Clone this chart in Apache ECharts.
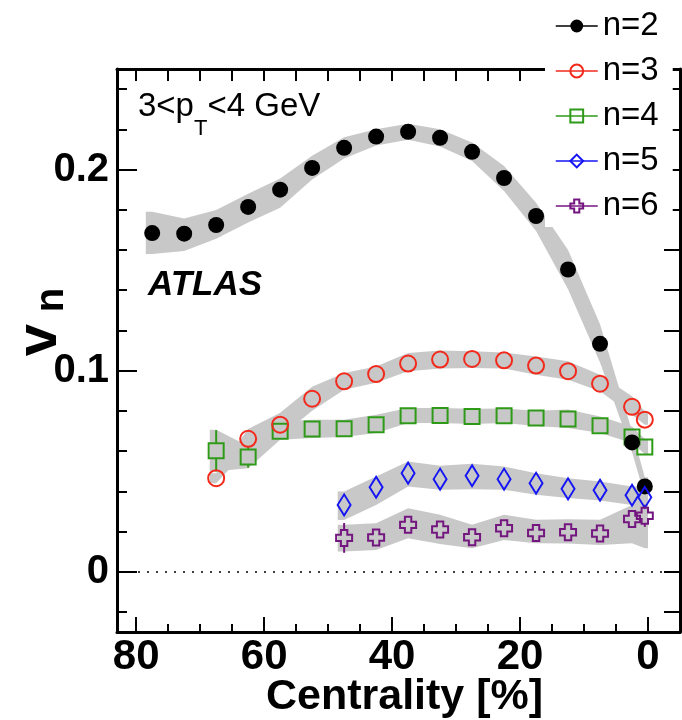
<!DOCTYPE html>
<html><head><meta charset="utf-8">
<script src="https://cdn.jsdelivr.net/npm/echarts@6/dist/echarts.min.js"></script>
<style>html,body{margin:0;padding:0;background:#fff}#c{width:682px;height:720px}</style>
</head><body><div id="c"></div>
<script>
// ---------------- data ----------------
const cent2 = [77.5,72.5,67.5,62.5,57.5,52.5,47.5,42.5,37.5,32.5,27.5,22.5,17.5,12.5,7.5,2.5,0.5];
const cent34 = [67.5,62.5,57.5,52.5,47.5,42.5,37.5,32.5,27.5,22.5,17.5,12.5,7.5,2.5,0.5];
const cent56 = [47.5,42.5,37.5,32.5,27.5,22.5,17.5,12.5,7.5,2.5,0.5];

const v2 = [0.1684,0.1681,0.1724,0.1814,0.1900,0.2008,0.2108,0.2164,0.2188,0.2158,0.2088,0.1958,0.1769,0.1503,0.1133,0.0643,0.0424];
const v2Lo = [0.1580,0.1595,0.1656,0.1736,0.1810,0.1950,0.2055,0.2120,0.2148,0.2115,0.2043,0.1893,0.1694,0.1405,0.1040,0.0595,0.0375];
const v2Hi = [0.1790,0.1756,0.1799,0.1880,0.1955,0.2068,0.2160,0.2200,0.2228,0.2200,0.2134,0.2018,0.1835,0.1600,0.1230,0.0700,0.0470];

const v3 = [0.0465,0.0661,0.0731,0.0860,0.0947,0.0983,0.1035,0.1055,0.1058,0.1051,0.1025,0.0997,0.0935,0.0820,0.0756];
const v3Lo = [0.0440,0.0610,0.0670,0.0800,0.0905,0.0940,0.0997,0.1010,0.1013,0.1010,0.0980,0.0955,0.0897,0.0781,0.0731];
const v3Hi = [0.0490,0.0710,0.0790,0.0920,0.0988,0.1021,0.1088,0.1100,0.1096,0.1090,0.1070,0.1046,0.0980,0.0872,0.0797];

const v4 = [0.0601,0.0570,0.0698,0.0710,0.0711,0.0731,0.0776,0.0777,0.0772,0.0776,0.0764,0.0759,0.0726,0.0670,0.0620];
const v4Lo = [0.0500,0.0515,0.0656,0.0665,0.0670,0.0690,0.0739,0.0739,0.0735,0.0739,0.0725,0.0714,0.0690,0.0640,0.0585];
const v4Hi = [0.0706,0.0625,0.0747,0.0756,0.0756,0.0781,0.0814,0.0814,0.0810,0.0812,0.0800,0.0806,0.0772,0.0722,0.0660];
const v4Err = [0.0103,0.0053,0.003,0.002,0.002,0.002,0.002,0.002,0.002,0.002,0.002,0.002,0.002,0.002,0.003];

const v5 = [0.0332,0.0420,0.0490,0.0460,0.0477,0.0460,0.0440,0.0412,0.0405,0.0380,0.0370];
const v5Lo = [0.0257,0.0332,0.0424,0.0407,0.0410,0.0407,0.0382,0.0366,0.0354,0.0332,0.0330];
const v5Hi = [0.0399,0.0473,0.0548,0.0527,0.0537,0.0523,0.0490,0.0465,0.0448,0.0424,0.0420];

const v6 = [0.0168,0.0170,0.0233,0.0210,0.0171,0.0216,0.0192,0.0196,0.0190,0.0262,0.0278];
const v6Lo = [0.0100,0.0108,0.0166,0.0138,0.0117,0.0158,0.0141,0.0140,0.0133,0.0141,0.0117];
const v6Hi = [0.0233,0.0241,0.0316,0.0283,0.0233,0.0283,0.0258,0.0261,0.0258,0.0332,0.0349];
const v6Err = [0.0074,0.004,0.003,0.003,0.003,0.003,0.003,0.003,0.003,0.004,0.0055];

const names = ['n=2','n=3','n=4','n=5','n=6'];
const xMajor = [80,60,40,20,0];
const xMinor = [80,75,70,65,60,55,50,45,40,35,30,25,20,15,10,5,0];
const yMajor = [0,0.1,0.2];
const yMinor = [-0.02,0,0.02,0.04,0.06,0.08,0.1,0.12,0.14,0.16,0.18,0.2,0.22,0.24];

// ---------------- style ----------------
const FONT = 'Liberation Sans';
const BAND = '#c8c8c8';
const C2 = '#000000', C3 = '#f2291b', C4 = '#2f9a18', C5 = '#1414f5', C6 = '#74167f';
const PAD = 1;
const CROSS = 'path://M3,0H7V3H10V7H7V10H3V7H0V3H3Z';

function zip(xs, ys){ return xs.map((x,i)=>[x, ys[i]]); }

function band(xs, lo, hi){
  return {
    type:'custom', z:1, silent:true, animation:false,
    data:[[xs[0], lo[0]]],
    renderItem:(params, api)=>{
      const n = xs.length, pts = [];
      pts.push(api.coord([xs[0]+PAD, hi[0]]));
      for(let i=0;i<n;i++) pts.push(api.coord([xs[i], hi[i]]));
      pts.push(api.coord([0, hi[n-1]]));
      pts.push(api.coord([0, lo[n-1]]));
      for(let i=n-1;i>=0;i--) pts.push(api.coord([xs[i], lo[i]]));
      pts.push(api.coord([xs[0]+PAD, lo[0]]));
      return {type:'polygon', shape:{points:pts}, style:{fill:BAND}};
    }
  };
}

function errBars(xs, ys, errs, color, half){
  return {
    type:'custom', z:4, silent:true, animation:false,
    data: xs.map((x,i)=>[x, ys[i], errs[i]]),
    renderItem:(params, api)=>{
      const x = api.value(0), y = api.value(1), e = api.value(2);
      const c = api.coord([x,y]), t = api.coord([x,y+e]), b = api.coord([x,y-e]);
      const kids = [];
      if (c[1]-t[1] > half) kids.push({type:'line', shape:{x1:c[0],y1:t[1],x2:c[0],y2:c[1]-half}, style:{stroke:color, lineWidth:2}});
      if (b[1]-c[1] > half) kids.push({type:'line', shape:{x1:c[0],y1:c[1]+half,x2:c[0],y2:b[1]}, style:{stroke:color, lineWidth:2}});
      return {type:'group', children:kids};
    }
  };
}

function markers(name, xs, ys, symbol, size, color, filled, z){
  return {
    name, type:'line', z, animation:false, silent:true,
    data: zip(xs, ys), symbol, symbolSize:size, showSymbol:true,
    lineStyle:{color, width:0, opacity:0},
    itemStyle: filled ? {color, borderWidth:0} : {color:'rgba(0,0,0,0)', borderColor:color, borderWidth:2},
    emphasis:{disabled:true}
  };
}

const chart = echarts.init(document.getElementById('c'), null, {renderer:'canvas'});

const axisLineStyle = {color:'#000', width:3};
const option = {
  backgroundColor:'#fff',
  animation:false,
  grid:{left:117, right:2, top:69, bottom:88, containLabel:false, outerBoundsMode:'none'},
  xAxis:[
    {type:'value', inverse:true, min:-5, max:83, position:'bottom',
     axisLine:{show:true, onZero:false, lineStyle:axisLineStyle},
     axisTick:{show:true, inside:true, length:15, lineStyle:{color:'#000', width:2}, customValues:xMajor},
     axisLabel:{show:true, customValues:xMajor, margin:4, color:'#000', fontSize:42, fontWeight:'bold', fontFamily:FONT},
     splitLine:{show:false},
     name:'Centrality [%]', nameLocation:'middle', nameGap:44, nameMoveOverlap:false,
     nameTextStyle:{color:'#000', fontSize:43, fontWeight:'bold', fontFamily:FONT, padding:[0,0,0,12]}},
    {type:'value', inverse:true, min:-5, max:83, position:'bottom',
     axisLine:{show:false, onZero:false},
     axisTick:{show:true, inside:true, length:8, lineStyle:{color:'#000', width:2}, customValues:xMinor},
     axisLabel:{show:false}, splitLine:{show:false}},
    {type:'value', inverse:true, min:-5, max:83, position:'top',
     axisLine:{show:true, onZero:false, lineStyle:axisLineStyle},
     axisTick:{show:true, inside:true, length:12, lineStyle:{color:'#000', width:2}, customValues:xMinor},
     axisLabel:{show:false}, splitLine:{show:false}}
  ],
  yAxis:[
    {type:'value', min:-0.03, max:0.25, position:'left',
     axisLine:{show:true, onZero:false, lineStyle:axisLineStyle},
     axisTick:{show:true, inside:true, length:20, lineStyle:{color:'#000', width:2}, customValues:yMajor},
     axisLabel:{show:true, customValues:yMajor, margin:8, color:'#000', fontSize:40, fontWeight:'bold', fontFamily:FONT,
       formatter:v=> Math.abs(v)<1e-9 ? '0' : v.toFixed(1)},
     splitLine:{show:false}},
    {type:'value', min:-0.03, max:0.25, position:'left',
     axisLine:{show:false, onZero:false},
     axisTick:{show:true, inside:true, length:10, lineStyle:{color:'#000', width:2}, customValues:yMinor},
     axisLabel:{show:false}, splitLine:{show:false}},
    {type:'value', min:-0.03, max:0.25, position:'right',
     axisLine:{show:true, onZero:false, lineStyle:axisLineStyle},
     axisTick:{show:true, inside:true, length:16, lineStyle:{color:'#000', width:2}, customValues:yMinor},
     axisLabel:{show:false}, splitLine:{show:false}}
  ],
  legend:{
    left:545, top:0, orient:'vertical', backgroundColor:'#fff',
    padding:[9,14,4,10], itemWidth:42, itemHeight:16, itemGap:11,
    selectedMode:false,
    textStyle:{fontSize:33, fontFamily:FONT, color:'#000', lineHeight:34},
    lineStyle:{width:1.5, opacity:1},
    data:names
  },
  graphic:[
    {type:'text', x:138, y:90, silent:true, style:{
      text:'{a|3<p}{b|T}{a|<4 GeV}',
      rich:{
        a:{fontSize:33, fontFamily:FONT, color:'#000', lineHeight:36, verticalAlign:'top'},
        b:{fontSize:22, fontFamily:FONT, color:'#000', lineHeight:50, verticalAlign:'bottom'}
      }}},
    {type:'text', x:148, y:285, silent:true, style:{
      text:'ATLAS', fontSize:35, fontWeight:'bold', fontStyle:'italic', fontFamily:FONT, fill:'#000',
      align:'left', verticalAlign:'middle', textAlign:'left', textVerticalAlign:'middle'}},
    {type:'text', x:40, y:340, rotation:Math.PI/2, silent:true, style:{
      text:'v', fontSize:58, fontWeight:'bold', fontFamily:FONT, fill:'#000',
      align:'center', verticalAlign:'middle', textAlign:'center', textVerticalAlign:'middle'}},
    {type:'text', x:52, y:300, rotation:Math.PI/2, silent:true, style:{
      text:'n', fontSize:40, fontWeight:'bold', fontFamily:FONT, fill:'#000',
      align:'center', verticalAlign:'middle', textAlign:'center', textVerticalAlign:'middle'}}
  ],
  series:[
    band(cent2, v2Lo, v2Hi),
    band(cent34, v3Lo, v3Hi),
    band(cent34, v4Lo, v4Hi),
    band(cent56, v5Lo, v5Hi),
    band(cent56, v6Lo, v6Hi),
    markers('n=4', cent34, v4, 'rect', 15, C4, false, 3),
    markers('n=2', cent2, v2, 'circle', 16, C2, true, 4),
    markers('n=3', cent34, v3, 'circle', 16, C3, false, 5),
    markers('n=5', cent56, v5, 'diamond', [13,21], C5, false, 5),
    markers('n=6', cent56, v6, CROSS, 16, C6, false, 5),
    errBars(cent34, v4, v4Err, C4, 8),
    errBars(cent56, v6, v6Err, C6, 8),
    {type:'line', z:2, silent:true, data:[], markLine:{
      silent:true, symbol:['none','none'], label:{show:false},
      lineStyle:{color:'#000', width:1.5, type:[2,7]},
      data:[{yAxis:0}]}}
  ]
};
chart.setOption(option);
</script>
</body></html>
